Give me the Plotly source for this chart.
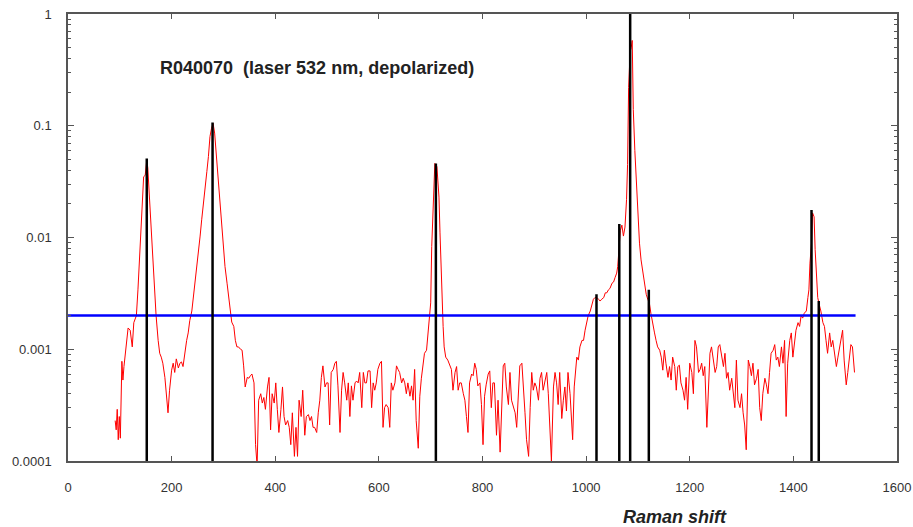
import plotly.graph_objects as go

# Raman spectrum R040070 (532 nm laser, depolarized), normalised intensity
shift = [
    91, 93, 95, 97, 99, 101, 104, 106, 108, 112, 116, 120, 124, 127, 132, 135, 138, 141, 144, 146,
    149, 152, 154, 157, 161, 164, 167, 170, 174, 177, 180, 183, 187, 190, 193, 196, 200, 203, 206, 209,
    213, 216, 219, 222, 226, 229, 232, 235, 239, 242, 245, 248, 252, 255, 258, 261, 265, 268, 271, 274,
    277, 280, 283, 286, 290, 294, 297, 300, 303, 307, 310, 313, 316, 320, 323, 326, 329, 333, 336, 339,
    342, 346, 349, 352, 355, 359, 362, 365, 368, 372, 375, 378, 381, 385, 388, 391, 394, 398, 401, 404,
    407, 411, 414, 417, 420, 424, 427, 430, 433, 437, 440, 443, 446, 450, 453, 457, 460, 464, 467, 470,
    473, 476, 480, 483, 486, 489, 492, 496, 499, 502, 505, 508, 512, 515, 518, 521, 525, 528, 531, 534,
    538, 541, 544, 547, 550, 554, 557, 560, 563, 567, 570, 573, 576, 579, 583, 586, 589, 592, 595, 598,
    602, 605, 608, 611, 614, 618, 621, 624, 627, 631, 634, 637, 640, 644, 647, 650, 653, 656, 660, 663,
    666, 669, 672, 676, 679, 682, 685, 688, 692, 695, 698, 700, 702, 705, 708, 712, 716, 718, 720, 722,
    724, 726, 729, 733, 737, 740, 743, 747, 750, 753, 756, 759, 763, 766, 769, 772, 775, 779, 782, 785,
    788, 791, 795, 798, 801, 804, 807, 811, 814, 817, 820, 823, 827, 830, 834, 837, 840, 843, 846, 850,
    853, 856, 860, 863, 866, 869, 872, 876, 879, 882, 885, 889, 892, 895, 898, 901, 904, 908, 911, 914,
    917, 920, 924, 927, 930, 933, 937, 940, 943, 946, 949, 953, 956, 959, 962, 965, 969, 971, 974, 977,
    980, 982, 985, 988, 992, 995, 998, 1001, 1004, 1008, 1011, 1014, 1017, 1021, 1024, 1027, 1030, 1034, 1037, 1040,
    1043, 1046, 1050, 1053, 1056, 1059, 1061, 1063, 1066, 1069, 1072, 1075, 1078, 1080, 1082, 1085, 1087, 1089, 1091, 1094,
    1097, 1100, 1103, 1106, 1110, 1113, 1116, 1119, 1122, 1125, 1129, 1132, 1135, 1138, 1142, 1145, 1148, 1151, 1154, 1158,
    1161, 1164, 1167, 1171, 1174, 1177, 1180, 1183, 1187, 1190, 1193, 1196, 1200, 1204, 1207, 1210, 1213, 1217, 1220, 1223,
    1226, 1229, 1233, 1236, 1239, 1242, 1245, 1249, 1252, 1255, 1258, 1261, 1265, 1268, 1271, 1274, 1277, 1281, 1284, 1287,
    1290, 1293, 1297, 1300, 1303, 1306, 1309, 1313, 1316, 1319, 1322, 1325, 1329, 1332, 1335, 1338, 1341, 1345, 1348, 1351,
    1354, 1357, 1361, 1364, 1367, 1370, 1373, 1377, 1380, 1383, 1386, 1389, 1393, 1396, 1399, 1402, 1405, 1409, 1412, 1415,
    1418, 1421, 1425, 1428, 1430, 1432, 1435, 1437, 1440, 1442, 1445, 1447, 1450, 1453, 1457, 1460, 1463, 1466, 1470, 1473,
    1476, 1479, 1483, 1486, 1489, 1492, 1495, 1498, 1502, 1505, 1508, 1511, 1514, 1518,
]
intensity = [
    0.00023, 0.00019, 0.00029, 0.000155, 0.00025, 0.00016, 0.00078, 0.00053, 0.0007, 0.00113,
    0.00155, 0.00148, 0.00105, 0.00173, 0.002, 0.0034, 0.0063, 0.0124, 0.0233, 0.035,
    0.036, 0.049, 0.042, 0.0233, 0.0124, 0.0067, 0.0036, 0.002, 0.0012, 0.00092,
    0.00085, 0.00075, 0.00056, 0.00037, 0.00027, 0.00043, 0.00065, 0.00075, 0.00062, 0.00082,
    0.00068, 0.00075, 0.00077, 0.0007, 0.00098, 0.0012, 0.0014, 0.0018, 0.0022, 0.0029,
    0.0039, 0.0051, 0.0072, 0.0103, 0.0144, 0.0203, 0.0284, 0.039, 0.053, 0.08,
    0.095, 0.105, 0.086, 0.057, 0.035, 0.0203, 0.0124, 0.0078, 0.0055, 0.0039,
    0.0029, 0.0022, 0.00175, 0.0016, 0.0012, 0.00105, 0.00105, 0.001, 0.00098, 0.00071,
    0.00046, 0.00056, 0.00055, 0.00058, 0.0006, 0.0005, 0.00014, 0.00009, 0.00035, 0.0004,
    0.00033, 0.00037, 0.00029, 0.00046, 0.00056, 0.00019, 0.0004, 0.00033, 0.0005, 0.00029,
    0.00018, 0.00029, 0.00046, 0.00025, 0.00021, 0.00023, 0.0002, 0.00014, 0.00027, 0.00011,
    0.0002, 0.00011, 0.00035, 0.00025, 0.00043, 0.00017, 0.00025, 0.00026, 0.00023, 0.00025,
    0.0002, 0.0002, 0.00018, 0.00027, 0.00035, 0.00056, 0.00071, 0.00046, 0.0005, 0.0005,
    0.00021, 0.00062, 0.00066, 0.00075, 0.00078, 0.00047, 0.00018, 0.00043, 0.00062, 0.0005,
    0.00035, 0.0005, 0.00025, 0.00047, 0.00035, 0.0005, 0.00052, 0.0005, 0.00062, 0.0003,
    0.00062, 0.0005, 0.0005, 0.00064, 0.00064, 0.0003, 0.0005, 0.00043, 0.0005, 0.00066,
    0.00075, 0.00078, 0.0002, 0.0003, 0.00032, 0.0003, 0.0002, 0.0005, 0.00043, 0.0005,
    0.00071, 0.00066, 0.00062, 0.0005, 0.00055, 0.0005, 0.0004, 0.0005, 0.00038, 0.00047,
    0.00035, 0.00066, 0.00023, 0.00013, 0.00038, 0.00055, 0.00075, 0.00092, 0.00098, 0.00148,
    0.0021, 0.0026, 0.0083, 0.023, 0.046, 0.043, 0.023, 0.011, 0.005, 0.0026,
    0.0016, 0.00105, 0.00085, 0.0008, 0.0007, 0.00066, 0.00043, 0.00062, 0.0007, 0.00043,
    0.0005, 0.0005, 0.0004, 0.00035, 0.00025, 0.00018, 0.0005, 0.0006, 0.00058, 0.00075,
    0.00066, 0.00047, 0.0005, 0.00032, 0.00014, 0.00038, 0.00048, 0.0006, 0.00064, 0.0003,
    0.0005, 0.0005, 0.00017, 0.00035, 0.00012, 0.0003, 0.00071, 0.00075, 0.00046, 0.00032,
    0.00062, 0.00035, 0.0003, 0.00027, 0.0002, 0.00037, 0.00071, 0.00075, 0.0004, 0.00027,
    0.000155, 0.00011, 0.0003, 0.00062, 0.00043, 0.0005, 0.00046, 0.00035, 0.00055, 0.00062,
    0.00043, 0.0005, 0.00062, 0.0004, 0.0002, 0.0001, 0.00046, 0.00062, 0.0005, 0.00032,
    0.00062, 0.00024, 0.00035, 0.00046, 0.00028, 0.00062, 0.0004, 0.00027, 0.000155, 0.00046,
    0.00071, 0.00085, 0.0008, 0.00105, 0.0012, 0.0012, 0.00148, 0.00173, 0.002, 0.0022,
    0.0025, 0.0028, 0.0029, 0.0029, 0.0028, 0.0027, 0.0028, 0.0029, 0.0032, 0.0032,
    0.0034, 0.0035, 0.0039, 0.004, 0.0044, 0.0048, 0.0055, 0.0078, 0.0115, 0.0129,
    0.0103, 0.0124, 0.0218, 0.045, 0.22, 0.46, 0.5, 0.58, 0.14, 0.06,
    0.03, 0.0153, 0.0089, 0.0063, 0.0048, 0.0036, 0.0031, 0.0028, 0.0026, 0.0021,
    0.00173, 0.0014, 0.0012, 0.00105, 0.00098, 0.00085, 0.00065, 0.00098, 0.00075, 0.00056,
    0.0007, 0.00053, 0.00085, 0.0007, 0.00043, 0.0007, 0.00072, 0.0005, 0.00043, 0.00035,
    0.00056, 0.00029, 0.00075, 0.00062, 0.0004, 0.0012, 0.00105, 0.00062, 0.00066, 0.00075,
    0.00058, 0.0007, 0.0002, 0.00048, 0.00092, 0.00105, 0.00085, 0.00062, 0.0007, 0.00105,
    0.0011, 0.00092, 0.0007, 0.00092, 0.00055, 0.00062, 0.00043, 0.00055, 0.00037, 0.0003,
    0.0008, 0.00035, 0.0003, 0.0004, 0.00027, 0.00021, 0.000126, 0.0008, 0.0007, 0.00058,
    0.00075, 0.00048, 0.00055, 0.00066, 0.0003, 0.00023, 0.0004, 0.00055, 0.00048, 0.0004,
    0.00062, 0.00092, 0.00098, 0.0011, 0.0008, 0.00085, 0.0007, 0.00105, 0.00075, 0.0012,
    0.00025, 0.00075, 0.0012, 0.0014, 0.00085, 0.0012, 0.00148, 0.00173, 0.0016, 0.002,
    0.0019, 0.0021, 0.0022, 0.0029, 0.0034, 0.0059, 0.0089, 0.0166, 0.0153, 0.0078,
    0.0041, 0.0029, 0.0025, 0.0022, 0.00173, 0.0016, 0.0012, 0.00092, 0.0014, 0.00105,
    0.0012, 0.00092, 0.0007, 0.00085, 0.00105, 0.0012, 0.00148, 0.0008, 0.00048, 0.00062,
    0.0008, 0.0011, 0.00105, 0.00062, 0.0004,
]

# Reference peak positions and relative heights
peak_pos = [152, 279, 710, 1020, 1064, 1085, 1121, 1435, 1449]
peak_height = [0.051, 0.107, 0.046, 0.0031, 0.0132, 1.0, 0.0034, 0.0176, 0.0027]

# Detection threshold
threshold = 0.002
threshold_span = [0, 1520]

x_ticks = [0, 200, 400, 600, 800, 1000, 1200, 1400, 1600]
y_ticks = [0.0001, 0.001, 0.01, 0.1, 1]
y_labels = ["0.0001", "0.001", "0.01", "0.1", "1"]

stick_x, stick_y = [], []
for p, h in zip(peak_pos, peak_height):
    stick_x += [p, p, None]
    stick_y += [1e-6, h, None]

fig = go.Figure()
fig.add_trace(go.Scatter(x=shift, y=intensity, mode="lines",
                         line=dict(color="#ff0000", width=1), hoverinfo="skip"))
fig.add_trace(go.Scatter(x=threshold_span, y=[threshold, threshold], mode="lines",
                         line=dict(color="#0000ff", width=2.5), hoverinfo="skip"))
fig.add_trace(go.Scatter(x=stick_x, y=stick_y, mode="lines",
                         line=dict(color="#000000", width=2.5), hoverinfo="skip"))

axis_font = dict(family="Liberation Sans, Arial, sans-serif", size=13, color="#333333")

fig.update_layout(
    width=913, height=527,
    margin=dict(l=68, r=16, t=14, b=66),
    paper_bgcolor="white", plot_bgcolor="white",
    showlegend=False,
    xaxis=dict(range=[0, 1600], tickvals=x_ticks, ticks="inside", ticklen=5,
               tickcolor="#555555", showline=True, linecolor="#555555", linewidth=1.5,
               mirror="ticks", showgrid=False, zeroline=False, tickfont=axis_font,
               ticklabelstandoff=14, automargin=False),
    yaxis=dict(type="log", range=[-4, 0], tickvals=y_ticks, ticktext=y_labels,
               ticks="inside", ticklen=6, tickcolor="#555555",
               minor=dict(ticks="inside", ticklen=3, tickcolor="#555555", dtick="D1", showgrid=False),
               showline=True, linecolor="#555555", linewidth=1.5, mirror="ticks",
               showgrid=False, zeroline=False, tickfont=axis_font, ticklabelstandoff=12,
               automargin=False),
    annotations=[
        dict(text="<b>R040070  (laser 532 nm, depolarized)</b>", xref="paper", yref="paper",
             x=0.1086, y=0.879, xanchor="left", yanchor="middle", showarrow=False,
             font=dict(family="Liberation Sans, Arial, sans-serif", size=18, color="#222222")),
        dict(text="<b><i>Raman shift</i></b>", xref="paper", yref="paper",
             x=0.732, y=-0.125, xanchor="center", yanchor="middle", showarrow=False,
             font=dict(family="Liberation Sans, Arial, sans-serif", size=18, color="#222222")),
    ],
)

fig.write_html("out.html")
